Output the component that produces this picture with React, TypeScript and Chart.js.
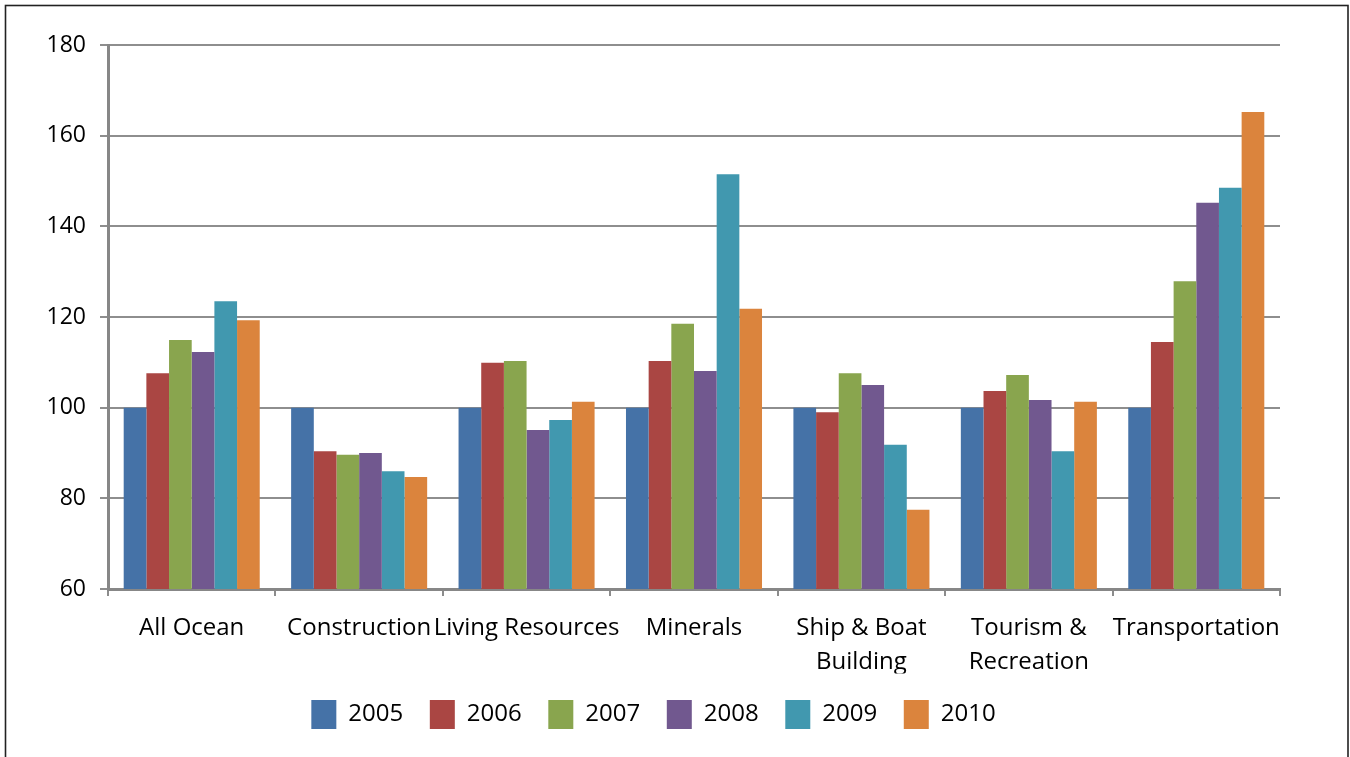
import React, { useEffect, useRef } from "react";
import { Chart, registerables } from "chart.js";

Chart.register(...registerables);

const categories: (string | string[])[] = [
  "All Ocean",
  "Construction",
  "Living Resources",
  "Minerals",
  ["Ship & Boat", "Building"],
  ["Tourism &", "Recreation"],
  "Transportation",
];

const years = ["2005", "2006", "2007", "2008", "2009", "2010"];

const values2005 = [100, 100, 100, 100, 100, 100, 100];
const values2006 = [107.6, 90.4, 109.9, 110.3, 99.0, 103.7, 114.5];
const values2007 = [114.9, 89.6, 110.3, 118.5, 107.6, 107.2, 127.9];
const values2008 = [112.3, 90.0, 95.1, 108.1, 105.0, 101.7, 145.2];
const values2009 = [123.5, 86.0, 97.3, 151.5, 91.8, 90.4, 148.5];
const values2010 = [119.3, 84.7, 101.3, 121.8, 77.5, 101.3, 165.2];

const colors = ["#4572A7", "#AA4643", "#89A54E", "#71588F", "#4198AF", "#DB843D"];

const yMin = 60;
const yMax = 180;
const yStep = 20;

const FONT = "'Open Sans', 'Noto Sans', sans-serif";

const framePlugin = {
  id: "frame",
  beforeDraw(chart: any) {
    const ctx = chart.ctx;
    ctx.save();
    ctx.fillStyle = "#ffffff";
    ctx.fillRect(0, 0, chart.width, chart.height);
    ctx.strokeStyle = "#222222";
    ctx.lineWidth = 1.6;
    ctx.strokeRect(5.5, 5.5, 1342.5, 800);
    ctx.restore();
  },
};

export default function App() {
  const canvasRef = useRef<HTMLCanvasElement | null>(null);

  useEffect(() => {
    if (!canvasRef.current) return;
    const series = [values2005, values2006, values2007, values2008, values2009, values2010];
    const chart = new Chart(canvasRef.current, {
      type: "bar",
      data: {
        labels: categories,
        datasets: years.map((y, i) => ({
          label: y,
          data: series[i],
          backgroundColor: colors[i],
          borderWidth: 0,
          categoryPercentage: 0.8125,
          barPercentage: 1.0,
        })),
      },
      options: {
        responsive: false,
        animation: false,
        layout: { padding: { left: 27, right: 70, top: 45, bottom: 18 } },
        plugins: {
          tooltip: { enabled: false },
          legend: {
            position: "bottom",
            labels: {
              boxWidth: 25,
              boxHeight: 29,
              padding: 26.6,
              color: "#000000",
              font: { family: FONT, size: 24 },
            },
          },
        },
        scales: {
          x: {
            grid: {
              display: true,
              drawOnChartArea: false,
              drawTicks: true,
              tickLength: 7,
              color: "#8c8c8c",
              lineWidth: 2,
              offset: true,
            },
            border: { display: true, color: "#878787", width: 3 },
            ticks: {
              color: "#000000",
              padding: 15,
              maxRotation: 0,
              autoSkip: false,
              font: { family: FONT, size: 24, lineHeight: "34px" },
            },
            afterFit(scale: any) {
              scale.height = 84.4;
            },
          },
          y: {
            min: yMin,
            max: yMax,
            grid: {
              color: "#8e8e8e",
              lineWidth: 2,
              tickLength: 8,
              drawTicks: true,
            },
            border: { display: true, color: "#878787", width: 3 },
            ticks: {
              stepSize: yStep,
              color: "#000000",
              padding: 14,
              font: { family: FONT, size: 23 },
            },
            afterFit(scale: any) {
              scale.width = 81;
            },
          },
        },
      },
      plugins: [framePlugin],
    });
    return () => chart.destroy();
  }, []);

  return (
    <div style={{ position: "fixed", left: 0, top: 0, width: 1350, height: 757, background: "#fff" }}>
      <canvas ref={canvasRef} width={1350} height={757} style={{ display: "block" }} />
    </div>
  );
}
